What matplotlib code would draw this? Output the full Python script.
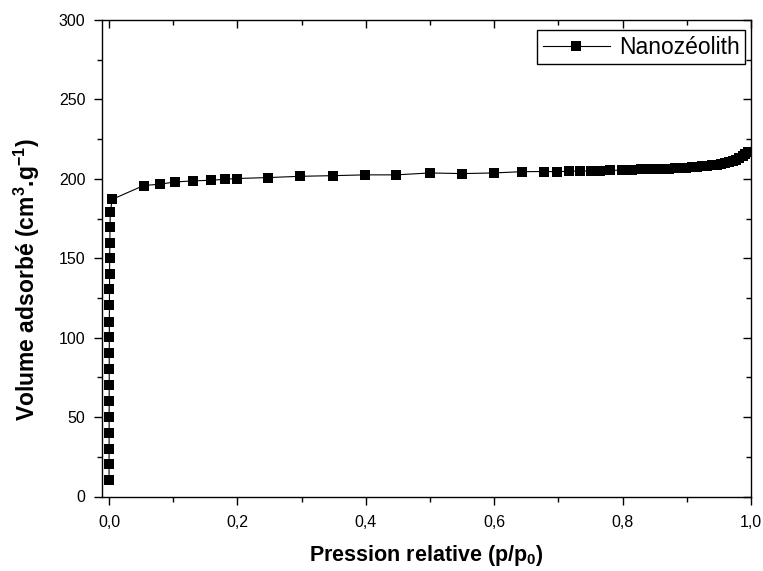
import matplotlib
matplotlib.use("Agg")
import matplotlib.pyplot as plt
from matplotlib.ticker import MultipleLocator

plt.rcParams['font.family'] = ['Liberation Sans', 'DejaVu Sans']
plt.rcParams['mathtext.fontset'] = 'custom'
plt.rcParams['mathtext.rm'] = 'Liberation Sans:bold'
plt.rcParams['mathtext.it'] = 'Liberation Sans:bold'
plt.rcParams['mathtext.bf'] = 'Liberation Sans:bold'

# ---- data ----
series_name = "Nanozéolith"
p_rel = [0.00002, 0.00004, 0.00006, 0.00009, 0.00012, 0.00016, 0.0002, 0.00025,
         0.0003, 0.00037, 0.00045, 0.00055, 0.00068, 0.00083, 0.001, 0.0012,
         0.0015, 0.0019, 0.005, 0.054, 0.079, 0.102, 0.130, 0.159, 0.180, 0.199,
         0.248, 0.298, 0.349, 0.399, 0.447, 0.500, 0.550, 0.599, 0.643, 0.677,
         0.698, 0.716, 0.734, 0.750, 0.765, 0.780, 0.799, 0.815, 0.829, 0.840,
         0.851, 0.862, 0.872, 0.881, 0.890, 0.899, 0.908, 0.916, 0.924, 0.932,
         0.940, 0.947, 0.954, 0.960, 0.966, 0.972, 0.977, 0.982, 0.987, 0.991,
         0.995]
vol_ads = [10.1, 20.2, 30.2, 39.7, 49.8, 59.9, 69.9, 80.0, 90.1, 100.2, 109.6,
           120.3, 130.4, 139.9, 150.0, 159.4, 169.5, 179.0, 187.1, 195.8, 196.6,
           198.0, 198.7, 199.1, 199.7, 200.2, 200.8, 201.6, 202.0, 202.5, 202.5,
           203.7, 203.3, 203.7, 204.5, 204.6, 204.5, 204.8, 204.9, 205.0, 205.2,
           205.3, 205.5, 205.8, 206.0, 206.1, 206.3, 206.4, 206.5, 206.7, 206.9,
           207.1, 207.3, 207.6, 207.9, 208.2, 208.6, 209.0, 209.5, 210.0, 210.6,
           211.3, 212.1, 213.0, 214.2, 215.4, 216.8]
x_ticks = [0.0, 0.2, 0.4, 0.6, 0.8, 1.0]
x_tick_labels = ["0,0", "0,2", "0,4", "0,6", "0,8", "1,0"]
y_ticks = [0, 50, 100, 150, 200, 250, 300]
y_tick_labels = ["0", "50", "100", "150", "200", "250", "300"]
x_label = r"Pression relative (p/p$_{0}$)"
y_label = r"Volume adsorbé (cm$^{3}$.g$^{-1}$)"

W, H = 763, 571
fig = plt.figure(figsize=(W / 100, H / 100), dpi=100)
ax = fig.add_axes([102 / W, 1 - 496.5 / H, 649 / W, 476.5 / H])

ax.plot(p_rel, vol_ads, color='black', lw=0.8, marker='s', markersize=7,
        markeredgewidth=0, label=series_name)

ax.set_xlim(-0.011, 1.0)
ax.set_ylim(0, 300)
ax.set_xticks(x_ticks)
ax.set_xticklabels(x_tick_labels)
ax.set_yticks(y_ticks)
ax.set_yticklabels(y_tick_labels)
ax.xaxis.set_minor_locator(MultipleLocator(0.1))
ax.yaxis.set_minor_locator(MultipleLocator(25))

for s in ax.spines.values():
    s.set_linewidth(1.0)

ax.tick_params(axis='both', which='major', length=6, width=1, labelsize=11.5)
ax.tick_params(axis='both', which='minor', length=3.5, width=1)
ax.tick_params(axis='x', which='both', top=True, direction='out', pad=7)
ax.tick_params(axis='y', which='both', right=True, direction='out', pad=6)
# top and right ticks point inward
for t in ax.xaxis.get_major_ticks() + ax.xaxis.get_minor_ticks():
    t.tick2line.set_marker(3)
for t in ax.yaxis.get_major_ticks() + ax.yaxis.get_minor_ticks():
    t.tick2line.set_marker(0)

ax.set_xlabel(x_label, fontsize=15.5, fontweight='bold', labelpad=10)
ax.set_ylabel(y_label, fontsize=16.5, fontweight='bold')
ax.yaxis.set_label_coords(-0.092, 0.456)

leg = ax.legend(loc='upper right', bbox_to_anchor=(0.991, 0.979),
                borderaxespad=0, fancybox=False, edgecolor='black', framealpha=1,
                fontsize=16.5, handlelength=2.9, handletextpad=0.4, borderpad=0.25)
leg.get_frame().set_linewidth(1.0)

fig.savefig("out.png", dpi=100)
